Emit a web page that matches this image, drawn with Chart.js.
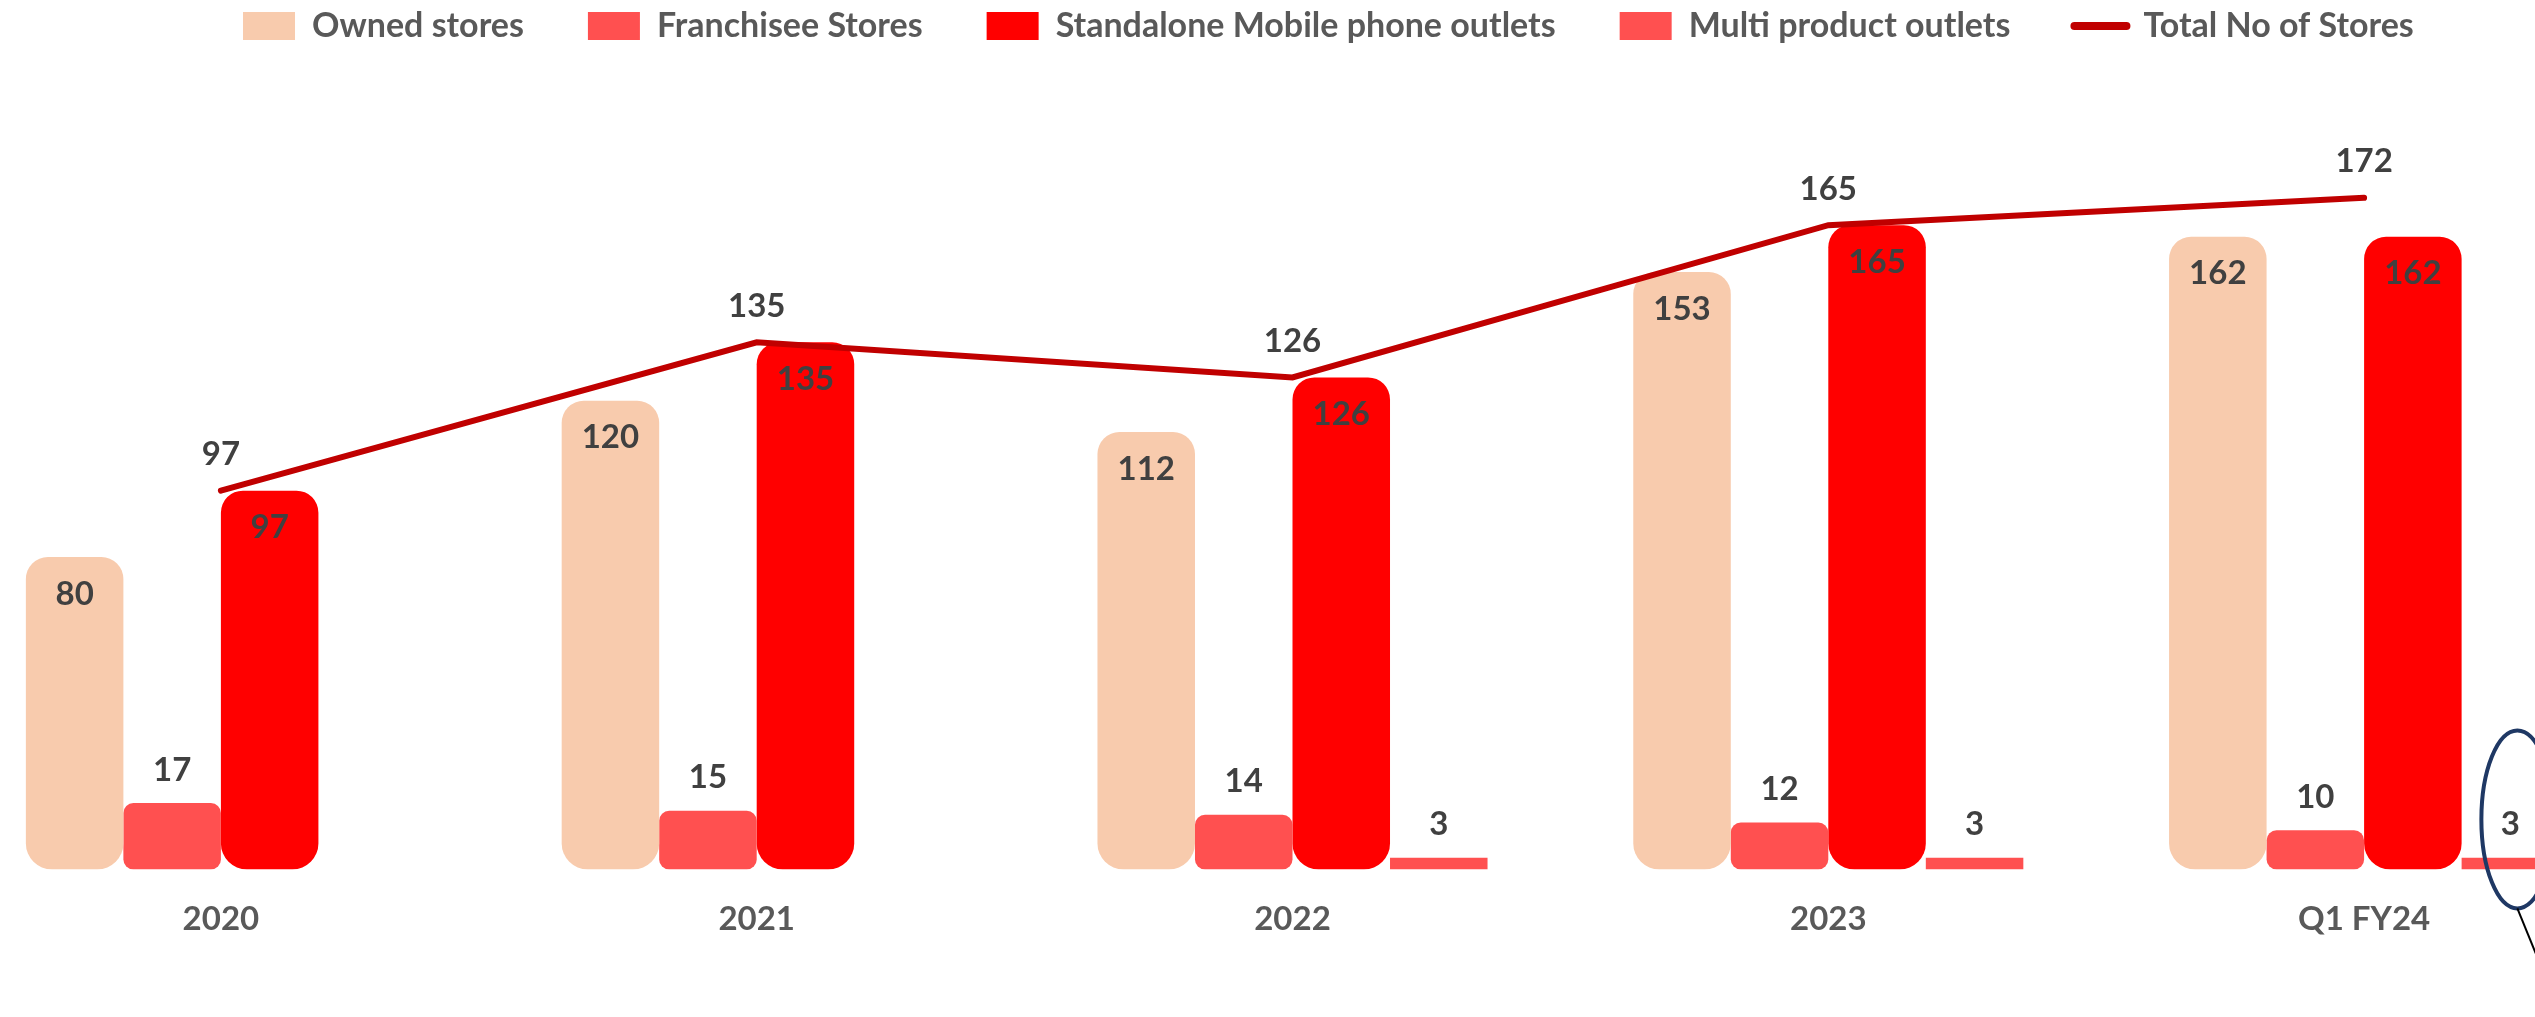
<!DOCTYPE html>
<html>
<head>
<meta charset="utf-8">
<script src="https://cdn.jsdelivr.net/npm/chart.js@4.4.0/dist/chart.umd.min.js"></script>
<style>
  html, body { margin: 0; padding: 0; background: #fff; overflow: hidden; width: 2535px; height: 1017px; }
  #wrap { position: absolute; left: -47px; top: 0; }
</style>
</head>
<body>
<div id="wrap"><canvas id="storeChart" width="2679" height="1017"></canvas></div>
<script>
const years = ['2020', '2021', '2022', '2023', 'Q1 FY24'];
const ownedStores = [80, 120, 112, 153, 162];
const franchiseeStores = [17, 15, 14, 12, 10];
const standaloneOutlets = [97, 135, 126, 165, 162];
const multiProductOutlets = [null, null, 3, 3, 3];
const totalStores = [97, 135, 126, 165, 172];

Chart.defaults.font.family = 'Lato, "Open Sans", sans-serif';
Chart.defaults.font.weight = 'bold';

// legend sits higher and further right than Chart.js would put it
const legendShift = {
  id: 'legendShift',
  afterLayout(chart) {
    const lg = chart.legend;
    const pad = lg.options.labels.padding;
    const half = lg.options.labels.font.size / 2;
    const dx = 290 - pad - lg.left;
    const dy = 26 - half - pad - lg.top;
    lg.left += dx; lg.right += dx;
    lg.top += dy; lg.bottom += dy;
  }
};

const valueLabels = {
  id: 'valueLabels',
  afterDatasetsDraw(chart) {
    const ctx = chart.ctx;
    ctx.save();
    ctx.font = 'bold 33px Lato, sans-serif';
    ctx.fillStyle = '#404040';
    ctx.textAlign = 'center';
    ctx.textBaseline = 'middle';
    chart.data.datasets.forEach((ds, i) => {
      const meta = chart.getDatasetMeta(i);
      meta.data.forEach((el, j) => {
        const v = ds.data[j];
        if (v === null || v === undefined) return;
        let off = -36;
        if (ds.labelPos === 'inside') off = 37;
        if (ds.labelPos === 'above') off = -33;
        ctx.fillText(v, el.x, el.y + off);
      });
    });
    ctx.restore();
  }
};

// circle round the last multi product bar, with its pointer line
const callout = {
  id: 'callout',
  afterDraw(chart) {
    const el = chart.getDatasetMeta(3).data[4];
    const ctx = chart.ctx;
    const cx = el.x + 7;
    const cy = el.base - 50;
    ctx.save();
    ctx.strokeStyle = '#1F3864';
    ctx.lineWidth = 4;
    ctx.beginPath();
    ctx.ellipse(cx, cy, 36, 89, 0, 0, Math.PI * 2);
    ctx.stroke();
    ctx.strokeStyle = '#000';
    ctx.lineWidth = 2;
    ctx.beginPath();
    ctx.moveTo(cx, cy + 89);
    ctx.lineTo(cx + 60, cy + 89 + 147);
    ctx.stroke();
    ctx.restore();
  }
};

const tallRadius = { topLeft: 22, topRight: 22, bottomLeft: 26, bottomRight: 26 };

new Chart(document.getElementById('storeChart'), {
  data: {
    labels: years,
    datasets: [
      {
        type: 'bar', label: 'Owned stores', data: ownedStores,
        backgroundColor: '#F8CBAD', borderSkipped: false, borderRadius: tallRadius,
        labelPos: 'inside', order: 1
      },
      {
        type: 'bar', label: 'Franchisee Stores', data: franchiseeStores,
        backgroundColor: '#FF5050', borderSkipped: false, borderRadius: 10,
        labelPos: 'above', order: 1
      },
      {
        type: 'bar', label: 'Standalone Mobile phone outlets', data: standaloneOutlets,
        backgroundColor: '#FF0000', borderSkipped: false, borderRadius: tallRadius,
        labelPos: 'inside', order: 1
      },
      {
        type: 'bar', label: 'Multi product outlets', data: multiProductOutlets,
        backgroundColor: '#FF5050', borderRadius: 0,
        labelPos: 'above', order: 1
      },
      {
        type: 'line', label: 'Total No of Stores', data: totalStores,
        borderColor: '#C00000', backgroundColor: '#C00000', borderWidth: 6,
        pointRadius: 0, tension: 0, borderCapStyle: 'round',
        labelPos: 'line', order: 0
      }
    ]
  },
  options: {
    responsive: false,
    animation: false,
    layout: { padding: { top: 0, bottom: 48, left: 0, right: 0 } },
    datasets: {
      bar: { barPercentage: 1.0, categoryPercentage: 0.728 }
    },
    scales: {
      x: {
        grid: { display: false, drawTicks: false },
        border: { display: false },
        ticks: { color: '#595959', font: { size: 33, weight: 'bold' }, padding: 30 }
      },
      y: {
        display: false,
        min: 0,
        max: 195
      }
    },
    plugins: {
      tooltip: { enabled: false },
      legend: {
        position: 'top',
        align: 'start',
        labels: {
          color: '#595959',
          font: { size: 34, weight: 'bold' },
          usePointStyle: true,
          pointStyleWidth: 52,
          boxHeight: 28,
          padding: 64,
          sort: (a, b) => a.datasetIndex - b.datasetIndex,
          generateLabels: function(chart) {
            const items = Chart.defaults.plugins.legend.labels.generateLabels(chart);
            items.forEach(item => {
              const ds = chart.data.datasets[item.datasetIndex];
              if (ds.type === 'line') {
                item.pointStyle = 'line';
                item.lineWidth = 8;
                item.strokeStyle = ds.borderColor;
                item.lineCap = 'round';
              } else {
                item.pointStyle = 'rect';
                item.lineWidth = 0;
              }
            });
            return items;
          }
        }
      }
    }
  },
  plugins: [legendShift, valueLabels, callout]
});
</script>
</body>
</html>
